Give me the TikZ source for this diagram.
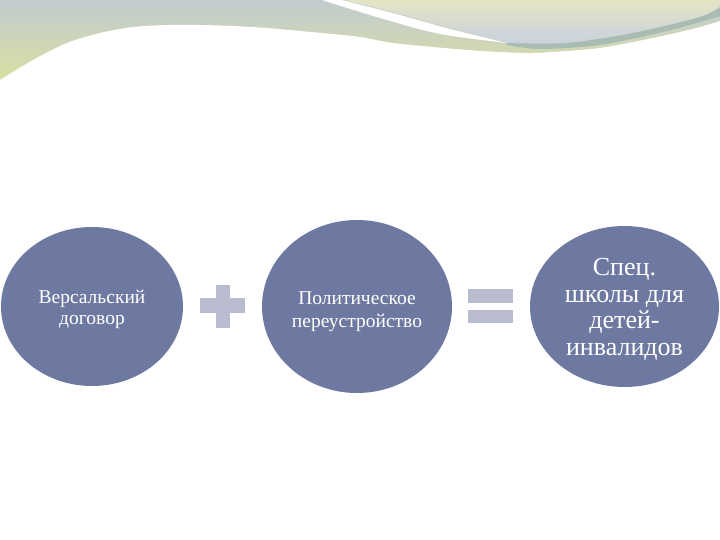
\documentclass[tikz,border=0pt]{standalone}
\usepackage{fontspec}
\setmainfont{Liberation Serif}
\usetikzlibrary{shapes.geometric}
\definecolor{ellfill}{HTML}{6D79A0}
\definecolor{signfill}{HTML}{B9BCCE}
\definecolor{waveA}{HTML}{C2CBCF}
\definecolor{waveB}{HTML}{DCE29B}
\definecolor{trTop}{HTML}{E4E4C4}
\definecolor{trBot}{HTML}{C8D1DE}
\definecolor{tealband}{HTML}{A8BCB4}
\tikzset{
  ell/.style={ellipse, fill=ellfill, draw=none, inner sep=0pt, text=white, align=center},
  sign/.style={fill=signfill, draw=none},
}
\begin{document}
\begin{tikzpicture}[x=1pt,y=-1pt]
\useasboundingbox (0,0) rectangle (720,540);
\fill[white] (0,0) rectangle (720,540);
% top decoration
\shade[top color=waveA, bottom color=waveB] (0,0) rectangle (720,90);
\shade[top color=trTop, bottom color=trBot]
  plot[smooth] coordinates {(345,0) (400,14) (450,28) (507,43)}
  -- plot[smooth] coordinates {(507,43) (567,43) (633,33) (700,17) (720,7)}
  -- (720,0) -- cycle;
\fill[tealband]
  plot[smooth] coordinates {(507,43) (567,43) (633,33) (700,17) (720,7)}
  -- plot[smooth] coordinates {(720,16) (667,31) (600,45) (540,49) (507,45)} -- cycle;
\fill[white]
  plot[smooth] coordinates {(342,0) (400,15) (450,29) (507,43)}
  -- plot[smooth] coordinates {(507,43) (440,34) (380,18) (322,0)} -- cycle;
\fill[white]
  plot[smooth] coordinates {(0,80) (33,60) (67,43) (100,33) (133,27) (167,25) (200,25) (233,26) (267,28) (300,31) (333,34) (360,37) (393,43) (433,47) (467,50) (500,52) (533,53) (567,51) (600,48) (633,42) (667,35) (700,27) (720,21)}
  -- (720,540) -- (0,540) -- cycle;
% ellipses
\node[ell, minimum width=182pt, minimum height=159pt] (e1) at (92,306.5) {};
\node[ell, minimum width=190pt, minimum height=173pt] (e2) at (357,306.5) {};
\node[ell, minimum width=189pt, minimum height=161pt] (e3) at (624.5,306.5) {};
\node[text=white, align=center, font=\fontsize{19.5}{21.5}\selectfont] (t1) at ([yshift=-3pt]e1.center) {Версальский\\договор};
\node[text=white, align=center, font=\fontsize{19.5}{22.5}\selectfont] (t2) at ([yshift=-5pt]e2.center) {Политическое\\переустройство};
\node[text=white, align=center, font=\fontsize{26}{26.5}\selectfont] (t3) at ([yshift=-3pt]e3.center) {Спец.\\школы для\\детей-\\инвалидов};
% plus sign
\fill[sign] (200,298) rectangle (245,313);
\fill[sign] (216,285) rectangle (230,328);
% equals sign
\fill[sign] (468,289) rectangle (513,303);
\fill[sign] (468,310) rectangle (513,323);
\end{tikzpicture}
\end{document}
